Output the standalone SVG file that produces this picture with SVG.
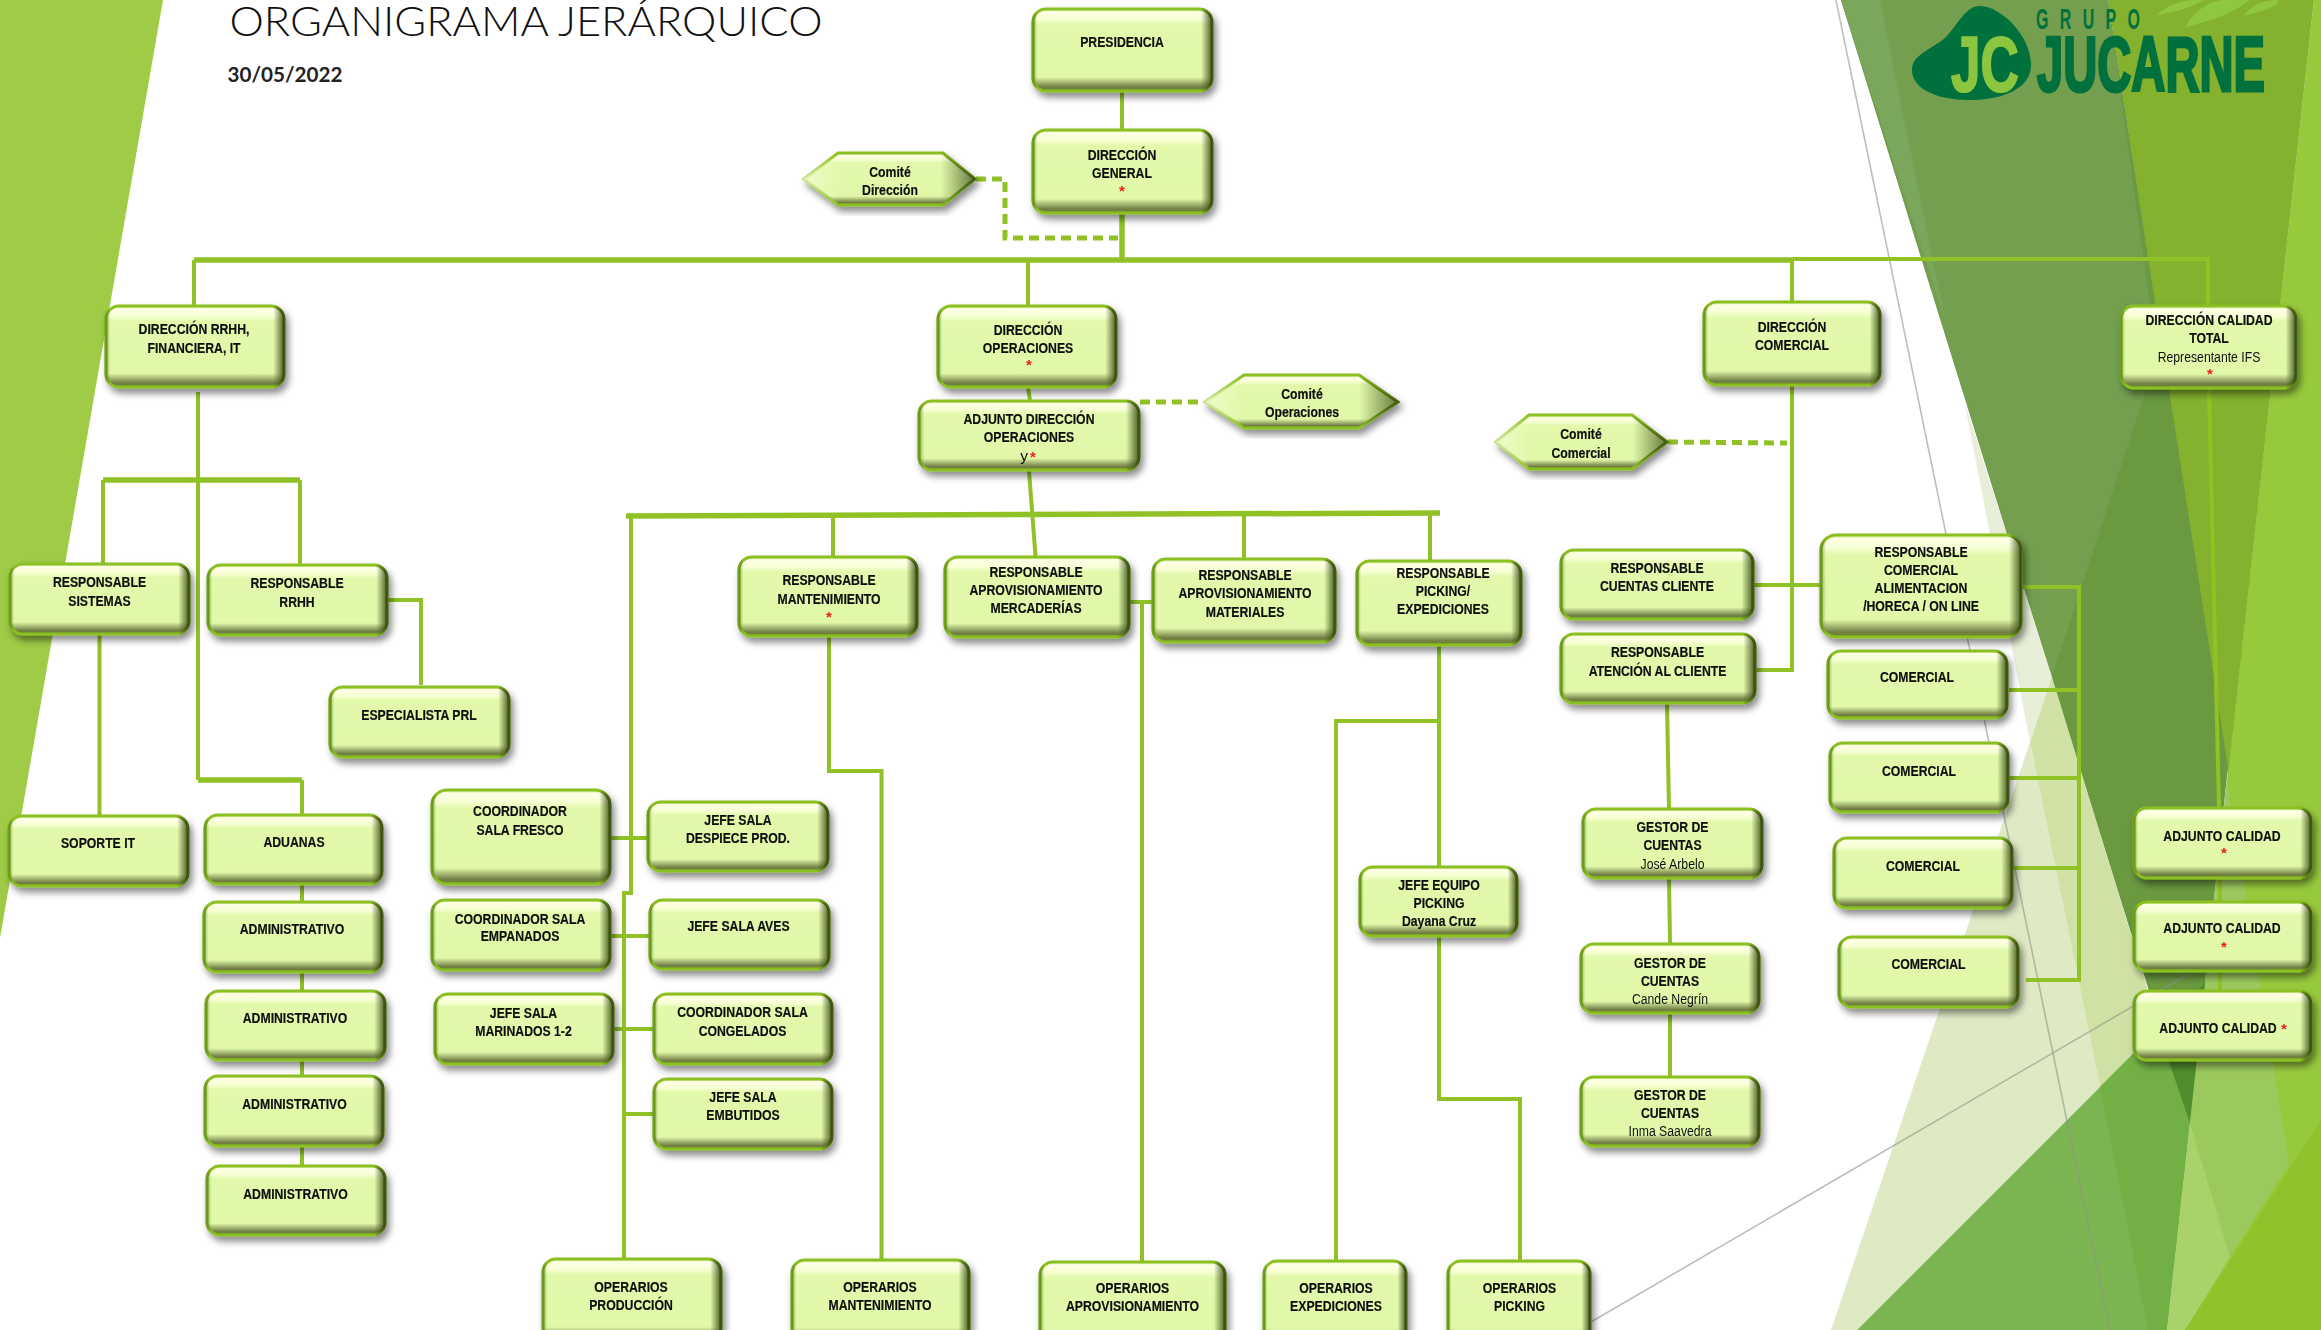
<svg xmlns="http://www.w3.org/2000/svg" width="2321" height="1330" viewBox="0 0 2321 1330">
<style>
.ln{fill:none;stroke:#90C226;stroke-width:4}
.th{fill:none;stroke:#90C226;stroke-width:5.5}
.da{fill:none;stroke:#90C226;stroke-width:5;stroke-dasharray:10 6}
.gl{fill:none;stroke:#8F9488;stroke-width:1.6;stroke-opacity:.6}
.n{filter:url(#sh)}
.b{fill:url(#body);stroke:#8BC020;stroke-width:3}
.o{fill:url(#side);stroke:url(#side);stroke-width:3}
.h{fill:url(#hexside);stroke:url(#hexside);stroke-width:3}
text{font-family:"Liberation Sans",Arial,sans-serif;font-size:15.5px;text-anchor:middle;fill:#111}
.t{font-weight:700;stroke:#111;stroke-width:.2}
.r{font-weight:400;stroke:none}
.s{fill:#EE1C25;font-weight:700;font-size:15px}
</style>
<defs>
<linearGradient id="body" x1="0" y1="0" x2="0" y2="1">
<stop offset="0" stop-color="#D4EE95"/><stop offset=".04" stop-color="#FEFFE6"/><stop offset=".13" stop-color="#F6FFD2"/><stop offset=".19" stop-color="#E2F9AC"/><stop offset=".83" stop-color="#E0F8A8"/><stop offset=".95" stop-color="#727F45"/><stop offset="1" stop-color="#6C8A2A"/>
</linearGradient>
<linearGradient id="side" x1="0" y1="0" x2="1" y2="0">
<stop offset="0" stop-color="#5F8A1C" stop-opacity=".6"/><stop offset=".025" stop-color="#5F8A1C" stop-opacity="0"/><stop offset=".94" stop-color="#3A4E14" stop-opacity="0"/><stop offset="1" stop-color="#3A4E14" stop-opacity=".9"/>
</linearGradient>
<linearGradient id="hexside" x1="0" y1="0" x2="1" y2="0">
<stop offset="0" stop-color="#FBFFE0" stop-opacity=".55"/><stop offset=".2" stop-color="#FBFFE0" stop-opacity="0"/><stop offset=".8" stop-color="#3A4E14" stop-opacity="0"/><stop offset="1" stop-color="#3A4E14" stop-opacity=".75"/>
</linearGradient>
<filter id="sh" x="-10%" y="-10%" width="125%" height="130%"><feDropShadow dx="3" dy="5" stdDeviation="3.500" flood-color="#000" flood-opacity=".45"/></filter>
</defs>

<g id="background">
<polygon points="0,0 163,0 0,938" fill="#9FCB46"/>
<polygon points="2314,0 2321,0 2321,1330 2185,1330 2190,1123 2227,780" fill="#97C93D"/>
<polygon points="2108,0 2314,0 2228,775" fill="#84B12E"/>
<polygon points="1841,0 2108,0 2228,767 2190,1123" fill="#6A9940"/>
<polygon points="1841,0 2108,0 2157,357 2052,677" fill="#739F4F"/>
<polygon points="1841,0 1880,0 1945,320" fill="#7BA75C"/>
<polygon points="1964,400 2052,677 2030,742" fill="#E8EFD8"/>
<polygon points="1831,1330 2030,742 2100,1087 1857,1330" fill="#DFEAC5"/>
<polygon points="2030,742 2052,677 2147,987 2140,1050 2100,1087" fill="#CFE1A4"/>
<polygon points="1857,1330 2207,980 2190,1123 2167,1330" fill="#7AB552"/>
<polygon points="2100,1087 2207,980 2190,1123 2167,1330 2148,1330" fill="#72B045"/>
<polygon points="2158,1030 2207,980 2190,1123" fill="#4F8E2C"/>
<polygon points="2227,780 2289,1163 2230,1257 2190,1123" fill="#9CC95E"/>
<polygon points="2190,1123 2230,1257 2185,1330 2167,1330" fill="#A9D36A"/>
<polygon points="2185,1330 2321,1120 2321,1330" fill="#92C22B"/>
<polyline class="gl" points="1836,0 2110,1330"/>
<polyline class="gl" points="1591,1322 2190,973"/>
</g>

<g id="logo">
<path d="M2157,15 C2165,6 2178,2 2192,0 L2205,0 C2195,5 2175,13 2157,15Z" fill="#8FC83C"/>
<path d="M2185,27 C2195,10 2210,0 2225,0 L2250,0 C2235,12 2210,22 2185,27Z" fill="#8FC83C"/>
<path d="M2244,16 C2250,6 2262,0 2278,0 L2279,2 C2270,10 2258,12 2244,16Z" fill="#8FC83C"/>
<path d="M1980,6 C2000,6 2031,35 2031,65 C2031,90 2000,100 1970,100 C1935,100 1912,88 1912,70 C1912,55 1930,50 1945,38 C1958,25 1965,6 1980,6Z" fill="#00703C"/>
<text transform="translate(1985 91) scale(.68 1)" style="font-size:78px;font-weight:700;fill:#8CC63F;stroke:#8CC63F;stroke-width:2">JC</text>
<text transform="translate(2151 91) scale(.605 1)" style="font-size:78px;font-weight:700;fill:#00703C;stroke:#00703C;stroke-width:3">JUCARNE</text>
<text transform="translate(2088 29) scale(.55 1)" style="font-size:29px;font-weight:700;fill:#00703C" textLength="189" lengthAdjust="spacing">GRUPO</text>
</g>

<g id="title">
<text x="526" y="36" style="font-family:Lato,'Liberation Sans',sans-serif;font-size:42px;font-weight:300;fill:#111" textLength="593" lengthAdjust="spacingAndGlyphs">ORGANIGRAMA JERÁRQUICO</text>
<text x="285" y="82" style="font-family:Lato,'Liberation Sans',sans-serif;font-size:21px;font-weight:700;fill:#222" textLength="115" lengthAdjust="spacingAndGlyphs">30/05/2022</text>
</g>

<g id="connectors">
<path class="ln" d="M1122,91V129"/>
<path class="th" d="M1122,214V260"/>
<path class="th" d="M194,260H1793"/>
<path class="ln" d="M1793,259H2208V305"/>
<path class="ln" d="M194,260V305M1028,260V305M1792,260V301"/>
<path class="da" d="M976,179H1005V238H1118"/>
<path class="ln" d="M198,392V780"/>
<path class="th" d="M198,780H302"/>
<path class="ln" d="M302,780V814"/>
<path class="th" d="M103,480H300"/>
<path class="ln" d="M103,480V563M300,480V564M99.500,635V815"/>
<path class="ln" d="M388,600H421V685"/>
<path class="ln" d="M302,885V1165"/>
<path class="ln" d="M1028,388L1030,400M1029,471L1035.500,556"/>
<path class="th" d="M626,516L1440,513"/>
<path class="ln" d="M631,516V893H624V1258"/>
<path class="ln" d="M833,516V556M1244,514V558M1430,514V560"/>
<path class="ln" d="M829,637V771H881.500V1259"/>
<path class="ln" d="M1130,602H1152M1142,602V1261"/>
<path class="ln" d="M1439,646V866M1439,721H1336V1260M1439,937V1099H1520V1260"/>
<path class="da" d="M1668,442L1787,443"/>
<path class="ln" d="M1792,386V670H1756"/>
<path class="ln" d="M1754,585H1820"/>
<path class="ln" d="M1667,704L1669,808M1669,879L1670,943M1670,1014V1076"/>
<path class="ln" d="M2022,587H2079V980H2026M2009,690H2079M2009,778H2079M2008,868H2079"/>
<path class="ln" d="M2209,389L2219,807M2220,879V901M2220,972V990"/>
<path class="da" d="M1140,402H1204"/>
<path class="ln" d="M611,838H647M611,936H649M614,1029H653M624,1114H653"/>
</g>

<g id="nodes">
<g id="presidencia" class="n"><rect class="b" x="1033" y="9" width="179" height="82" rx="13"/><rect class="o" x="1033" y="9" width="179" height="82" rx="13"/><text class="t" transform="translate(1122 0) scale(.79 1)"><tspan x="0" y="47">PRESIDENCIA</tspan></text></g>
<g id="direccion-general" class="n"><rect class="b" x="1033" y="130" width="179" height="83" rx="13"/><rect class="o" x="1033" y="130" width="179" height="83" rx="13"/><text class="t" transform="translate(1122 0) scale(.79 1)"><tspan x="0" y="160">DIRECCIÓN</tspan><tspan x="0" y="178">GENERAL</tspan></text><text class="s" x="1122" y="196">*</text></g>
<g id="comite-direccion" class="n"><polygon class="b" points="804,179 838,153 943,153 975,179 943,205 838,205"/><polygon class="h" points="804,179 838,153 943,153 975,179 943,205 838,205"/><text class="t" transform="translate(890 0) scale(.79 1)"><tspan x="0" y="177">Comité</tspan><tspan x="0" y="195">Dirección</tspan></text></g>
<g id="direccion-rrhh" class="n"><rect class="b" x="106" y="306" width="178" height="81" rx="13"/><rect class="o" x="106" y="306" width="178" height="81" rx="13"/><text class="t" transform="translate(194 0) scale(.79 1)"><tspan x="0" y="334">DIRECCIÓN RRHH,</tspan><tspan x="0" y="353">FINANCIERA,  IT</tspan></text></g>
<g id="direccion-operaciones" class="n"><rect class="b" x="938" y="306" width="178" height="81" rx="13"/><rect class="o" x="938" y="306" width="178" height="81" rx="13"/><text class="t" transform="translate(1028 0) scale(.79 1)"><tspan x="0" y="335">DIRECCIÓN</tspan><tspan x="0" y="353">OPERACIONES</tspan></text><text class="s" x="1029" y="370">*</text></g>
<g id="adjunto-operaciones" class="n"><rect class="b" x="919" y="401" width="220" height="69" rx="13"/><rect class="o" x="919" y="401" width="220" height="69" rx="13"/><text class="t" transform="translate(1029 0) scale(.79 1)"><tspan x="0" y="424">ADJUNTO DIRECCIÓN</tspan><tspan x="0" y="442">OPERACIONES</tspan></text><text class="r" x="1024" y="461">y</text><text class="s" x="1033" y="462">*</text></g>
<g id="resp-sistemas" class="n"><rect class="b" x="10" y="564" width="179" height="70" rx="13"/><rect class="o" x="10" y="564" width="179" height="70" rx="13"/><text class="t" transform="translate(99.500 0) scale(.79 1)"><tspan x="0" y="587">RESPONSABLE</tspan><tspan x="0" y="606">SISTEMAS</tspan></text></g>
<g id="resp-rrhh" class="n"><rect class="b" x="208" y="565" width="179" height="70" rx="13"/><rect class="o" x="208" y="565" width="179" height="70" rx="13"/><text class="t" transform="translate(297 0) scale(.79 1)"><tspan x="0" y="588">RESPONSABLE</tspan><tspan x="0" y="607">RRHH</tspan></text></g>
<g id="resp-mantenimiento" class="n"><rect class="b" x="739" y="557" width="178" height="79" rx="13"/><rect class="o" x="739" y="557" width="178" height="79" rx="13"/><text class="t" transform="translate(829 0) scale(.79 1)"><tspan x="0" y="585">RESPONSABLE</tspan><tspan x="0" y="604">MANTENIMIENTO</tspan></text><text class="s" x="829" y="622">*</text></g>
<g id="resp-aprov-mercaderias" class="n"><rect class="b" x="945" y="557" width="184" height="80" rx="13"/><rect class="o" x="945" y="557" width="184" height="80" rx="13"/><text class="t" transform="translate(1036 0) scale(.79 1)"><tspan x="0" y="577">RESPONSABLE</tspan><tspan x="0" y="595">APROVISIONAMIENTO</tspan><tspan x="0" y="613">MERCADERÍAS</tspan></text></g>
<g id="resp-aprov-materiales" class="n"><rect class="b" x="1153" y="559" width="182" height="83" rx="13"/><rect class="o" x="1153" y="559" width="182" height="83" rx="13"/><text class="t" transform="translate(1245 0) scale(.79 1)"><tspan x="0" y="580">RESPONSABLE</tspan><tspan x="0" y="598">APROVISIONAMIENTO</tspan><tspan x="0" y="617">MATERIALES</tspan></text></g>
<g id="resp-picking" class="n"><rect class="b" x="1357" y="561" width="164" height="84" rx="13"/><rect class="o" x="1357" y="561" width="164" height="84" rx="13"/><text class="t" transform="translate(1443 0) scale(.79 1)"><tspan x="0" y="578">RESPONSABLE</tspan><tspan x="0" y="596">PICKING/</tspan><tspan x="0" y="614">EXPEDICIONES</tspan></text></g>
<g id="direccion-comercial" class="n"><rect class="b" x="1704" y="302" width="176" height="83" rx="13"/><rect class="o" x="1704" y="302" width="176" height="83" rx="13"/><text class="t" transform="translate(1792 0) scale(.79 1)"><tspan x="0" y="332">DIRECCIÓN</tspan><tspan x="0" y="350">COMERCIAL</tspan></text></g>
<g id="direccion-calidad" class="n"><rect class="b" x="2121" y="306" width="175" height="82" rx="13"/><rect class="o" x="2121" y="306" width="175" height="82" rx="13"/><text class="t" transform="translate(2209 0) scale(.79 1)"><tspan x="0" y="325">DIRECCIÓN CALIDAD</tspan><tspan x="0" y="343">TOTAL</tspan><tspan class="r" x="0" y="362">Representante IFS</tspan></text><text class="s" x="2210" y="379">*</text></g>
<g id="comite-operaciones" class="n"><polygon class="b" points="1205,402 1244,375 1359,375 1398,402 1359,428 1244,428"/><polygon class="h" points="1205,402 1244,375 1359,375 1398,402 1359,428 1244,428"/><text class="t" transform="translate(1302 0) scale(.79 1)"><tspan x="0" y="399">Comité</tspan><tspan x="0" y="417">Operaciones</tspan></text></g>
<g id="comite-comercial" class="n"><polygon class="b" points="1496,442 1529,415 1632,415 1667,442 1632,469 1529,469"/><polygon class="h" points="1496,442 1529,415 1632,415 1667,442 1632,469 1529,469"/><text class="t" transform="translate(1581 0) scale(.79 1)"><tspan x="0" y="439">Comité</tspan><tspan x="0" y="458">Comercial</tspan></text></g>
<g id="resp-cuentas" class="n"><rect class="b" x="1561" y="550" width="192" height="69" rx="13"/><rect class="o" x="1561" y="550" width="192" height="69" rx="13"/><text class="t" transform="translate(1657 0) scale(.79 1)"><tspan x="0" y="573">RESPONSABLE</tspan><tspan x="0" y="591">CUENTAS CLIENTE</tspan></text></g>
<g id="resp-comercial" class="n"><rect class="b" x="1821" y="535" width="200" height="102" rx="15"/><rect class="o" x="1821" y="535" width="200" height="102" rx="15"/><text class="t" transform="translate(1921 0) scale(.79 1)"><tspan x="0" y="557">RESPONSABLE</tspan><tspan x="0" y="575">COMERCIAL</tspan><tspan x="0" y="593">ALIMENTACION</tspan><tspan x="0" y="611">/HORECA / ON LINE</tspan></text></g>
<g id="resp-atencion" class="n"><rect class="b" x="1561" y="634" width="194" height="69" rx="13"/><rect class="o" x="1561" y="634" width="194" height="69" rx="13"/><text class="t" transform="translate(1657.500 0) scale(.79 1)"><tspan x="0" y="657">RESPONSABLE</tspan><tspan x="0" y="676">ATENCIÓN AL CLIENTE</tspan></text></g>
<g id="comercial-1" class="n"><rect class="b" x="1828" y="651" width="179" height="67" rx="13"/><rect class="o" x="1828" y="651" width="179" height="67" rx="13"/><text class="t" transform="translate(1917 682) scale(.79 1)">COMERCIAL</text></g>
<g id="comercial-2" class="n"><rect class="b" x="1830" y="743" width="178" height="69" rx="13"/><rect class="o" x="1830" y="743" width="178" height="69" rx="13"/><text class="t" transform="translate(1919 776) scale(.79 1)">COMERCIAL</text></g>
<g id="comercial-3" class="n"><rect class="b" x="1834" y="838" width="178" height="70" rx="13"/><rect class="o" x="1834" y="838" width="178" height="70" rx="13"/><text class="t" transform="translate(1923 871) scale(.79 1)">COMERCIAL</text></g>
<g id="comercial-4" class="n"><rect class="b" x="1839" y="937" width="179" height="70" rx="13"/><rect class="o" x="1839" y="937" width="179" height="70" rx="13"/><text class="t" transform="translate(1928.500 969) scale(.79 1)">COMERCIAL</text></g>
<g id="adjunto-calidad-1" class="n"><rect class="b" x="2134" y="808" width="177" height="70" rx="13"/><rect class="o" x="2134" y="808" width="177" height="70" rx="13"/><text class="t" transform="translate(2222 841) scale(.79 1)">ADJUNTO CALIDAD</text><text class="s" x="2224" y="858">*</text></g>
<g id="adjunto-calidad-2" class="n"><rect class="b" x="2134" y="902" width="177" height="69" rx="13"/><rect class="o" x="2134" y="902" width="177" height="69" rx="13"/><text class="t" transform="translate(2222 933) scale(.79 1)">ADJUNTO CALIDAD</text><text class="s" x="2224" y="952">*</text></g>
<g id="adjunto-calidad-3" class="n"><rect class="b" x="2134" y="991" width="177" height="69" rx="13"/><rect class="o" x="2134" y="991" width="177" height="69" rx="13"/><text class="t" transform="translate(2218 1033) scale(.79 1)">ADJUNTO CALIDAD</text><text class="s" x="2284" y="1034">*</text></g>
<g id="gestor-1" class="n"><rect class="b" x="1583" y="809" width="179" height="69" rx="13"/><rect class="o" x="1583" y="809" width="179" height="69" rx="13"/><text class="t" transform="translate(1672.500 0) scale(.79 1)"><tspan x="0" y="832">GESTOR DE</tspan><tspan x="0" y="850">CUENTAS</tspan><tspan class="r" x="0" y="869">José Arbelo</tspan></text></g>
<g id="gestor-2" class="n"><rect class="b" x="1581" y="944" width="178" height="69" rx="13"/><rect class="o" x="1581" y="944" width="178" height="69" rx="13"/><text class="t" transform="translate(1670 0) scale(.79 1)"><tspan x="0" y="968">GESTOR DE</tspan><tspan x="0" y="986">CUENTAS</tspan><tspan class="r" x="0" y="1004">Cande Negrín</tspan></text></g>
<g id="gestor-3" class="n"><rect class="b" x="1581" y="1077" width="178" height="69" rx="13"/><rect class="o" x="1581" y="1077" width="178" height="69" rx="13"/><text class="t" transform="translate(1670 0) scale(.79 1)"><tspan x="0" y="1100">GESTOR DE</tspan><tspan x="0" y="1118">CUENTAS</tspan><tspan class="r" x="0" y="1136">Inma Saavedra</tspan></text></g>
<g id="jefe-equipo-picking" class="n"><rect class="b" x="1360" y="867" width="157" height="69" rx="13"/><rect class="o" x="1360" y="867" width="157" height="69" rx="13"/><text class="t" transform="translate(1439 0) scale(.79 1)"><tspan x="0" y="890">JEFE EQUIPO</tspan><tspan x="0" y="908">PICKING</tspan><tspan x="0" y="926">Dayana Cruz</tspan></text></g>
<g id="operarios-expediciones" class="n"><rect class="b" x="1264" y="1261" width="142" height="82" rx="13"/><rect class="o" x="1264" y="1261" width="142" height="82" rx="13"/><text class="t" transform="translate(1336 0) scale(.79 1)"><tspan x="0" y="1293">OPERARIOS</tspan><tspan x="0" y="1311">EXPEDICIONES</tspan></text></g>
<g id="operarios-picking" class="n"><rect class="b" x="1448" y="1261" width="142" height="82" rx="13"/><rect class="o" x="1448" y="1261" width="142" height="82" rx="13"/><text class="t" transform="translate(1519.500 0) scale(.79 1)"><tspan x="0" y="1293">OPERARIOS</tspan><tspan x="0" y="1311">PICKING</tspan></text></g>
<g id="operarios-aprovisionamiento" class="n"><rect class="b" x="1040" y="1262" width="185" height="82" rx="13"/><rect class="o" x="1040" y="1262" width="185" height="82" rx="13"/><text class="t" transform="translate(1132.500 0) scale(.79 1)"><tspan x="0" y="1293">OPERARIOS</tspan><tspan x="0" y="1311">APROVISIONAMIENTO</tspan></text></g>
<g id="operarios-mantenimiento" class="n"><rect class="b" x="792" y="1260" width="177" height="82" rx="13"/><rect class="o" x="792" y="1260" width="177" height="82" rx="13"/><text class="t" transform="translate(880 0) scale(.79 1)"><tspan x="0" y="1292">OPERARIOS</tspan><tspan x="0" y="1310">MANTENIMIENTO</tspan></text></g>
<g id="operarios-produccion" class="n"><rect class="b" x="543" y="1259" width="178" height="82" rx="13"/><rect class="o" x="543" y="1259" width="178" height="82" rx="13"/><text class="t" transform="translate(631 0) scale(.79 1)"><tspan x="0" y="1292">OPERARIOS</tspan><tspan x="0" y="1310">PRODUCCIÓN</tspan></text></g>
<g id="especialista-prl" class="n"><rect class="b" x="330" y="687" width="179" height="70" rx="13"/><rect class="o" x="330" y="687" width="179" height="70" rx="13"/><text class="t" transform="translate(419 720) scale(.79 1)">ESPECIALISTA PRL</text></g>
<g id="soporte-it" class="n"><rect class="b" x="9" y="816" width="179" height="70" rx="13"/><rect class="o" x="9" y="816" width="179" height="70" rx="13"/><text class="t" transform="translate(98 848) scale(.79 1)">SOPORTE IT</text></g>
<g id="aduanas" class="n"><rect class="b" x="205" y="815" width="177" height="69" rx="13"/><rect class="o" x="205" y="815" width="177" height="69" rx="13"/><text class="t" transform="translate(294 847) scale(.79 1)">ADUANAS</text></g>
<g id="administrativo-1" class="n"><rect class="b" x="204" y="902" width="178" height="70" rx="13"/><rect class="o" x="204" y="902" width="178" height="70" rx="13"/><text class="t" transform="translate(292 934) scale(.79 1)">ADMINISTRATIVO</text></g>
<g id="administrativo-2" class="n"><rect class="b" x="206" y="991" width="179" height="69" rx="13"/><rect class="o" x="206" y="991" width="179" height="69" rx="13"/><text class="t" transform="translate(295 1023) scale(.79 1)">ADMINISTRATIVO</text></g>
<g id="administrativo-3" class="n"><rect class="b" x="205" y="1076" width="178" height="70" rx="13"/><rect class="o" x="205" y="1076" width="178" height="70" rx="13"/><text class="t" transform="translate(294.500 1109) scale(.79 1)">ADMINISTRATIVO</text></g>
<g id="administrativo-4" class="n"><rect class="b" x="207" y="1166" width="178" height="69" rx="13"/><rect class="o" x="207" y="1166" width="178" height="69" rx="13"/><text class="t" transform="translate(295.500 1199) scale(.79 1)">ADMINISTRATIVO</text></g>
<g id="coord-fresco" class="n"><rect class="b" x="432" y="790" width="178" height="94" rx="15"/><rect class="o" x="432" y="790" width="178" height="94" rx="15"/><text class="t" transform="translate(520 0) scale(.79 1)"><tspan x="0" y="816">COORDINADOR</tspan><tspan x="0" y="835">SALA FRESCO</tspan></text></g>
<g id="jefe-despiece" class="n"><rect class="b" x="648" y="802" width="180" height="69" rx="13"/><rect class="o" x="648" y="802" width="180" height="69" rx="13"/><text class="t" transform="translate(738 0) scale(.79 1)"><tspan x="0" y="825">JEFE SALA</tspan><tspan x="0" y="843">DESPIECE PROD.</tspan></text></g>
<g id="coord-empanados" class="n"><rect class="b" x="432" y="900" width="178" height="70" rx="13"/><rect class="o" x="432" y="900" width="178" height="70" rx="13"/><text class="t" transform="translate(520 0) scale(.79 1)"><tspan x="0" y="924">COORDINADOR SALA</tspan><tspan x="0" y="941">EMPANADOS</tspan></text></g>
<g id="jefe-aves" class="n"><rect class="b" x="650" y="900" width="179" height="69" rx="13"/><rect class="o" x="650" y="900" width="179" height="69" rx="13"/><text class="t" transform="translate(738.500 931) scale(.79 1)">JEFE SALA AVES</text></g>
<g id="jefe-marinados" class="n"><rect class="b" x="435" y="994" width="178" height="70" rx="13"/><rect class="o" x="435" y="994" width="178" height="70" rx="13"/><text class="t" transform="translate(523.500 0) scale(.79 1)"><tspan x="0" y="1018">JEFE SALA</tspan><tspan x="0" y="1036">MARINADOS 1-2</tspan></text></g>
<g id="coord-congelados" class="n"><rect class="b" x="654" y="994" width="178" height="70" rx="13"/><rect class="o" x="654" y="994" width="178" height="70" rx="13"/><text class="t" transform="translate(742.500 0) scale(.79 1)"><tspan x="0" y="1017">COORDINADOR SALA</tspan><tspan x="0" y="1036">CONGELADOS</tspan></text></g>
<g id="jefe-embutidos" class="n"><rect class="b" x="654" y="1079" width="178" height="70" rx="13"/><rect class="o" x="654" y="1079" width="178" height="70" rx="13"/><text class="t" transform="translate(743 0) scale(.79 1)"><tspan x="0" y="1102">JEFE SALA</tspan><tspan x="0" y="1120">EMBUTIDOS</tspan></text></g>
</g>
</svg>
